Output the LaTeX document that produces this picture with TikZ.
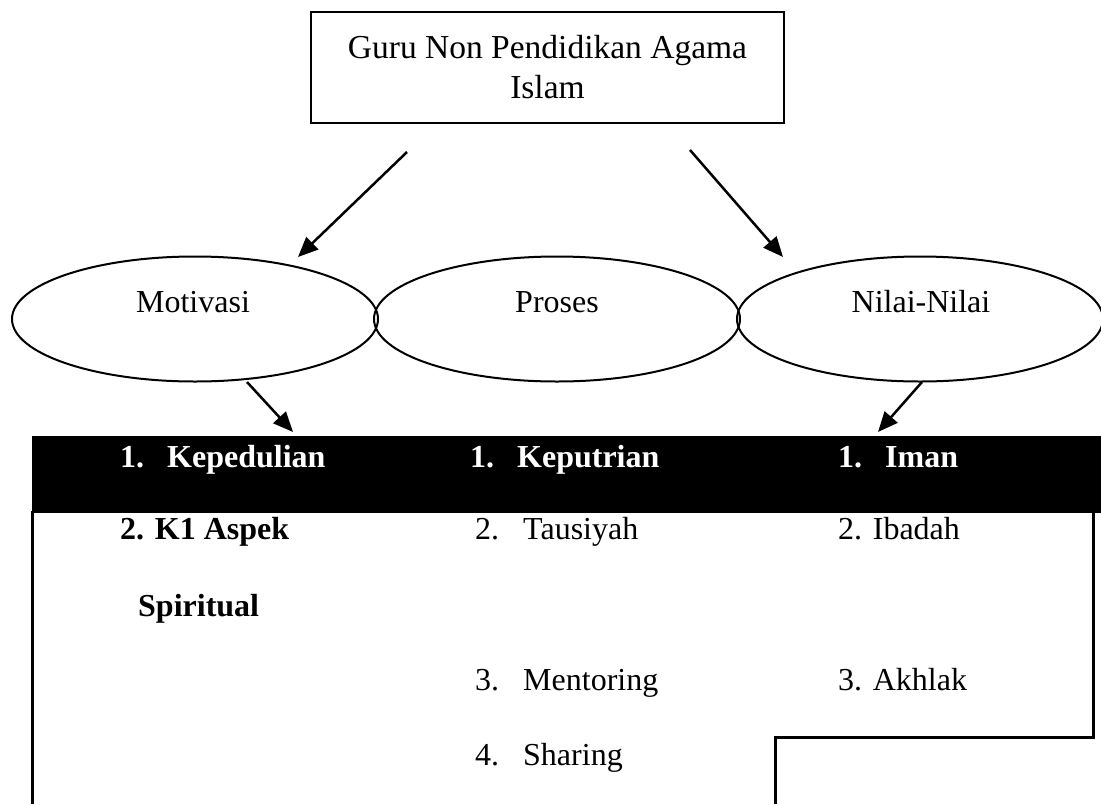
\documentclass[tikz,border=0pt]{standalone}
\usepackage{fontspec}
\setmainfont{Liberation Serif}
\usetikzlibrary{shapes.geometric,arrows.meta}
\begin{document}
\begin{tikzpicture}[x=1pt,y=-1pt,
  txt/.style={inner sep=0pt, anchor=base west, font=\fontsize{32}{40}\selectfont},
  btxt/.style={inner sep=0pt, anchor=base west, font=\fontsize{32}{40}\selectfont\bfseries},
  wtxt/.style={btxt, text=white},
  ctxt/.style={inner sep=0pt, anchor=base, font=\fontsize{32}{40}\selectfont},
  oval/.style={draw, ellipse, line width=2pt, minimum width=366pt, minimum height=125pt, inner sep=0pt},
  arr/.style={line width=2.5pt, -{Triangle[length=20pt,width=17pt]}},
  frame/.style={line width=3pt},
  topbox/.style={draw, line width=1.5pt, minimum width=473pt, minimum height=111pt, inner sep=0pt, align=center, font=\fontsize{33.5}{40}\selectfont}]
\useasboundingbox (0,0) rectangle (1101,804);

% top box
\node[topbox] (guru) at (547.5,67.5) {Guru Non Pendidikan Agama\\Islam};

% ellipses
\node[oval] (mot) at (195,319) {};
\node[oval] (pro) at (557,319) {};
\node[oval] (nil) at (920,319) {};
\node[ctxt] (motT) at (193,312) {Motivasi};
\node[ctxt] (proT) at (557,312) {Proses};
\node[ctxt] (nilT) at (921,312) {Nilai-Nilai};

% arrows from top box
\coordinate (a1s) at (407,152);
\coordinate (a1e) at (298,257);
\coordinate (a2s) at (690,150);
\coordinate (a2e) at (783,257);
\draw[arr] (a1s) -- (a1e);
\draw[arr] (a2s) -- (a2e);

% black band
\fill[black] (32,436) rectangle (1101,513);

% frame lines
\draw[frame] (32,511) -- (32,804);
\draw[frame] (1093,511) -- (1093,737) -- (775,737) -- (775,804);

% arrows from ellipses to band
\coordinate (b1s) at (247,382);
\coordinate (b1e) at (293,432);
\coordinate (b2s) at (922,382);
\coordinate (b2e) at (878,432);
\draw[arr] (b1s) -- (b1e);
\draw[arr] (b2s) -- (b2e);

% band texts
\node[wtxt] (k1) at (120,467) {\makebox[47pt][l]{1.}Kepedulian};
\node[wtxt] (p1) at (470,467) {\makebox[47pt][l]{1.}Keputrian};
\node[wtxt] (n1) at (838,467) {\makebox[47pt][l]{1.}Iman};

% column 1
\node[btxt] (k2) at (120,539) {2. K1 Aspek};
\node[btxt] (k3) at (138,616) {Spiritual};

% column 2
\node[txt] (p2) at (475,539) {\makebox[48pt][l]{2.}Tausiyah};
\node[txt] (p3) at (475,690) {\makebox[48pt][l]{3.}Mentoring};
\node[txt] (p4) at (475,765) {\makebox[48pt][l]{4.}Sharing};

% column 3
\node[txt] (n2) at (838,539) {2. Ibadah};
\node[txt] (n3) at (838,690) {3. Akhlak};
\end{tikzpicture}
\end{document}
